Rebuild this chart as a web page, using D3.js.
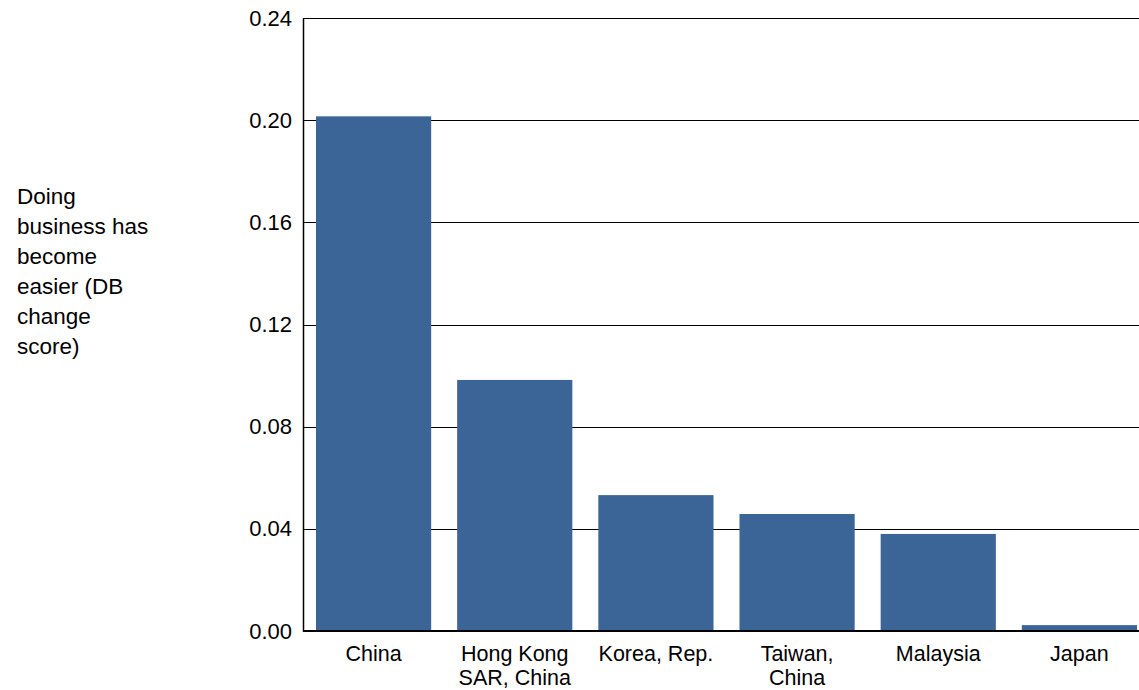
<!DOCTYPE html>
<html>
<head>
<meta charset="utf-8">
<script src="https://cdn.jsdelivr.net/npm/d3@7"></script>
<style>
  body { margin: 0; background: #fff; }
  svg { display: block; font-family: "Liberation Sans", Arial, sans-serif; }
</style>
</head>
<body>
<div id="chart"></div>
<script>
const width = 1139;
const height = 690;

// data
const economies = ["China", "Hong Kong SAR, China", "Korea, Rep.", "Taiwan, China", "Malaysia", "Japan"];
const labelLines = [["China"], ["Hong Kong", "SAR, China"], ["Korea, Rep."], ["Taiwan,", "China"], ["Malaysia"], ["Japan"]];
const scores = [0.2015, 0.0983, 0.0532, 0.0458, 0.0380, 0.0023];
const yTicks = [0, 0.04, 0.08, 0.12, 0.16, 0.20, 0.24];
const titleLines = ["Doing", "business has", "become", "easier (DB", "change", "score)"];

const plotLeft = 303, plotTop = 18, plotBottom = 631;

const svg = d3.select("#chart")
    .append("svg")
    .attr("width", width)
    .attr("height", height);

const x = d3.scaleBand()
    .domain(economies)
    .range([plotLeft, 1150])
    .paddingInner(0.184)
    .paddingOuter(0.092);

const y = d3.scaleLinear()
    .domain([0, 0.24])
    .range([plotBottom, plotTop]);

// gridlines
svg.append("g")
    .selectAll("line")
    .data(yTicks.slice(1))
    .join("line")
    .attr("x1", plotLeft)
    .attr("x2", width)
    .attr("y1", d => Math.round(y(d)) + 0.5)
    .attr("y2", d => Math.round(y(d)) + 0.5)
    .attr("stroke", "#000")
    .attr("stroke-width", 1);

// bars
svg.append("g")
    .selectAll("rect")
    .data(scores)
    .join("rect")
    .attr("x", (d, i) => x(economies[i]))
    .attr("width", x.bandwidth())
    .attr("y", d => y(d))
    .attr("height", d => y(0) - y(d))
    .attr("fill", "#3b6597");

// y axis
const yAxis = svg.append("g")
    .attr("transform", `translate(${plotLeft},0)`)
    .call(d3.axisLeft(y).tickValues(yTicks).tickFormat(d3.format(".2f")).tickSize(0).tickPadding(11));
yAxis.select(".domain").attr("stroke", "#000").attr("stroke-width", 1.5);
yAxis.selectAll("text").attr("font-size", 22).attr("fill", "#000")
    .attr("font-family", "Liberation Sans, Arial, sans-serif");

// bottom axis line
svg.append("line")
    .attr("x1", plotLeft)
    .attr("x2", width)
    .attr("y1", y(0))
    .attr("y2", y(0))
    .attr("stroke", "#000")
    .attr("stroke-width", 2);

// x labels
const xl = svg.append("g")
    .selectAll("text")
    .data(economies)
    .join("text")
    .attr("x", d => x(d) + x.bandwidth() / 2)
    .attr("y", 661)
    .attr("text-anchor", "middle")
    .attr("font-size", 21.5)
    .attr("fill", "#000");
xl.selectAll("tspan")
    .data((d, i) => labelLines[i])
    .join("tspan")
    .attr("x", function() { return d3.select(this.parentNode).attr("x"); })
    .attr("dy", (d, i) => i === 0 ? 0 : 23.5)
    .text(d => d);

// y title
svg.append("text")
    .attr("x", 17)
    .attr("y", 204)
    .attr("font-size", 22.5)
    .attr("fill", "#000")
    .selectAll("tspan")
    .data(titleLines)
    .join("tspan")
    .attr("x", 17)
    .attr("dy", (d, i) => i === 0 ? 0 : 30)
    .text(d => d);
</script>
</body>
</html>
